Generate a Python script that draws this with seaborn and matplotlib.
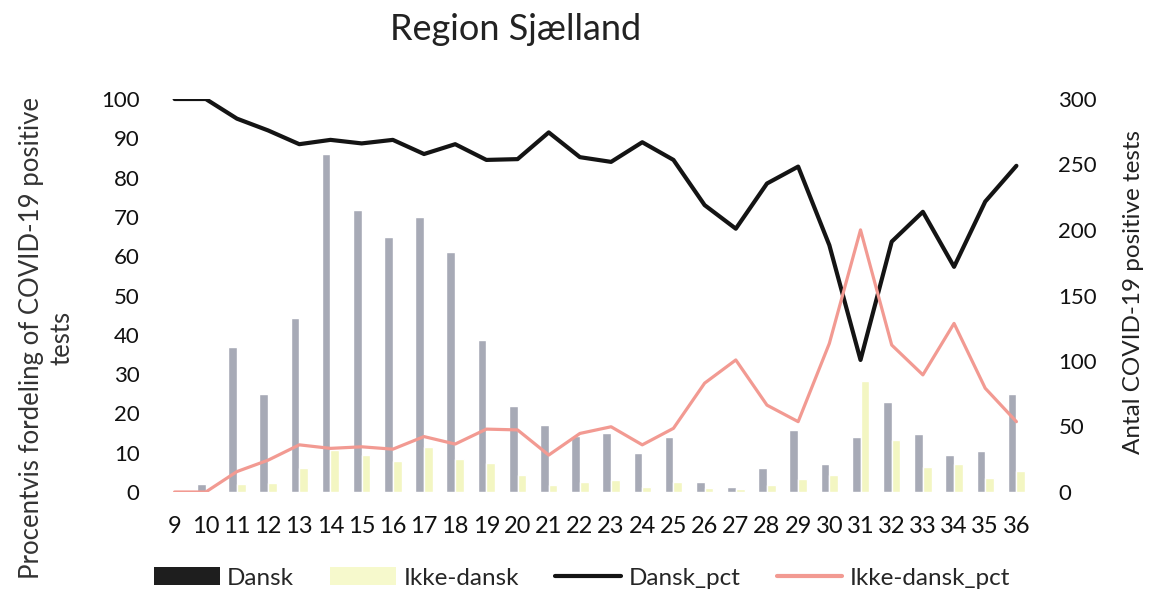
import numpy as np
import pandas as pd
import matplotlib
matplotlib.use("Agg")
import matplotlib.pyplot as plt
import seaborn as sns
from matplotlib.patches import Patch
from matplotlib.lines import Line2D

weeks = [str(w) for w in range(9, 37)]
dansk = [1, 6, 111, 75, 133, 258, 215, 195, 210, 183, 116, 66, 51, 43,
         45, 30, 42, 8, 4, 18, 47, 21, 42, 69, 44, 28, 31, 75]
ikke_dansk = [0, 0, 6, 7, 18, 32, 28, 24, 34, 25, 22, 13, 5, 8,
              9, 4, 8, 3, 2, 5, 10, 13, 85, 40, 19, 21, 11, 16]
dansk_pct = [100, 100, 95, 92, 88.5, 89.6, 88.7, 89.6, 86, 88.5, 84.5, 84.7, 91.5, 85.2,
             84, 89, 84.5, 73, 67, 78.5, 82.8, 62.8, 33.6, 63.7, 71.3, 57.3, 73.9, 83]
ikke_dansk_pct = [0, 0, 5.2, 8.1, 12, 11.1, 11.5, 10.9, 14.1, 12.2, 16, 15.8, 9.4, 14.9,
                  16.6, 12, 16.2, 27.7, 33.6, 22.1, 17.9, 37.8, 66.7, 37.4, 29.8, 42.9, 26.4, 17.9]

title = "Region Sjælland"
left_label = "Procentvis fordeling of COVID-19 positive\ntests"
right_label = "Antal COVID-19 positive tests"

sns.set_theme(style="white")
plt.rcParams['font.family'] = ['Lato', 'DejaVu Sans']

bar_grey = "#A7AAB6"
bar_yellow = "#F3F6C2"
line_black = "#141414"
line_red = "#F29A92"

df = pd.DataFrame({
    "week": weeks * 2,
    "count": dansk + ikke_dansk,
    "group": ["Dansk"] * len(weeks) + ["Ikke-dansk"] * len(weeks),
})

fig = plt.figure(figsize=(11.52, 5.94), dpi=100)
ax = fig.add_axes([159 / 1152, 102 / 594, (1032 - 159) / 1152, (492 - 99) / 594])

sns.barplot(data=df, x="week", y="count", hue="group", order=weeks,
            palette=[bar_grey, bar_yellow], width=0.56, ax=ax,
            saturation=1, legend=False, errorbar=None)
ax.set_ylim(0, 300)
ax.set_xlim(-0.5, len(weeks) - 0.5)
ax.set_yticks(range(0, 301, 50))
ax.set_xlabel("")
ax.set_ylabel("")

ax2 = ax.twinx()
xpos = np.arange(len(weeks))
sns.lineplot(x=xpos, y=dansk_pct, ax=ax2, color=line_black, linewidth=3.0)
sns.lineplot(x=xpos, y=ikke_dansk_pct, ax=ax2, color=line_red, linewidth=2.3)
ax2.set_ylim(0, 100)
ax2.set_xlim(-0.5, len(weeks) - 0.5)
ax2.set_yticks(range(0, 101, 10))
ax2.set_ylabel("")

# bars axis ticks on the right, percentage axis ticks on the left
ax.yaxis.tick_right()
ax2.yaxis.tick_left()

for a in (ax, ax2):
    for s in a.spines.values():
        s.set_visible(False)
    a.grid(False)
    a.tick_params(length=0)

ax.tick_params(axis="y", labelsize=16, pad=19, colors="#111111",
               left=False, labelleft=False, right=True, labelright=True)
ax2.tick_params(axis="y", labelsize=16, pad=14, colors="#111111",
                left=True, labelleft=True, right=False, labelright=False)
ax.tick_params(axis="x", labelsize=17, pad=17, colors="#111111")

fig.text(516 / 1152, 1 - 30 / 594, title, ha="center", va="center",
         fontsize=26, color="#222222", fontweight="normal")
fig.text(47 / 1152, 1 - 338 / 594, left_label, ha="center", va="center",
         rotation=90, fontsize=18.5, color="#333333", linespacing=1.3)
fig.text(1133 / 1152, 1 - 292 / 594, right_label, ha="center", va="center",
         rotation=90, fontsize=17.5, color="#222222")

handles = [
    Patch(facecolor="#1e1e1e", edgecolor="none"),
    Patch(facecolor="#F6F9CC", edgecolor="none"),
    Line2D([0], [0], color=line_black, linewidth=3),
    Line2D([0], [0], color=line_red, linewidth=3),
]
labels = ["Dansk", "Ikke-dansk", "Dansk_pct", "Ikke-dansk_pct"]
fig.legend(handles, labels, loc="center", bbox_to_anchor=(582 / 1152, 1 - 578 / 594),
           ncol=4, frameon=False, fontsize=17.5, handlelength=2.7, handleheight=0.7,
           columnspacing=1.5, handletextpad=0.3)

fig.savefig("out.png", dpi=100)
